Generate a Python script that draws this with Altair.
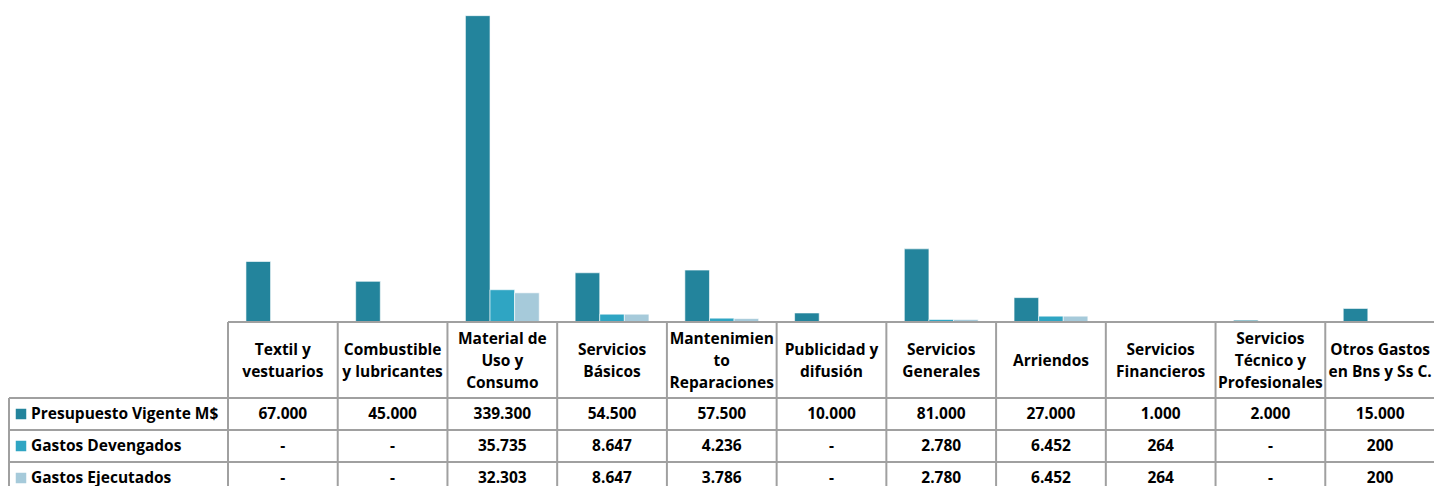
import altair as alt
import pandas as pd

# Spending categories (header labels wrap onto several lines)
categories = [
    "Textil y\nvestuarios",
    "Combustible\ny lubricantes",
    "Material de\nUso y\nConsumo",
    "Servicios\nBásicos",
    "Mantenimien\nto\nReparaciones",
    "Publicidad y\ndifusión",
    "Servicios\nGenerales",
    "Arriendos",
    "Servicios\nFinancieros",
    "Servicios\nTécnico y\nProfesionales",
    "Otros Gastos\nen Bns y Ss C.",
]
series = ["Presupuesto Vigente M$", "Gastos Devengados", "Gastos Ejecutados"]

presupuesto = [67000, 45000, 339300, 54500, 57500, 10000, 81000, 27000, 1000, 2000, 15000]
devengados = [0, 0, 35735, 8647, 4236, 0, 2780, 6452, 264, 0, 200]
ejecutados = [0, 0, 32303, 8647, 3786, 0, 2780, 6452, 264, 0, 200]

colors = ["#23849C", "#2FA5C3", "#A6CADA"]

FONT = "Open Sans"
FSIZE = 15.5
GRID = "#A0A0A0"
LINE_H = 22
HEADER_MID = 361


def fmt(v):
    return "-" if v == 0 else f"{v:,}".replace(",", ".")


rows = []
for s, vals in zip(series, [presupuesto, devengados, ejecutados]):
    for c, v in zip(categories, vals):
        rows.append({"cat": c, "series": s, "value": v, "label": fmt(v)})
df = pd.DataFrame(rows)
bars_df = df[df["value"] > 0]
cat_df = pd.DataFrame({"cat": categories,
                       "nlines": [c.count("\n") + 1 for c in categories]})
ser_df = pd.DataFrame({"series": series})

x_scale = alt.Scale(type="band", domain=categories, range=[228, 1435],
                    paddingInner=0, paddingOuter=0)
y_val = alt.Scale(domain=[0, 350000], range=[322, 6], nice=False, zero=True)
row_point = alt.Scale(type="point", domain=series, range=[398, 494], padding=0.5)
row_band = alt.Scale(type="band", domain=series, range=[398, 494],
                     paddingInner=0, paddingOuter=0)
color_scale = alt.Scale(domain=series, range=colors)

bars = alt.Chart(bars_df).mark_bar(stroke="#FFFFFF", strokeWidth=0.6).encode(
    x=alt.X("cat:N", scale=x_scale, axis=None),
    xOffset=alt.XOffset("series:N", sort=series,
                        scale=alt.Scale(domain=series, paddingInner=0, paddingOuter=0.73)),
    y=alt.Y("value:Q", scale=y_val, axis=None),
    color=alt.Color("series:N", scale=color_scale, legend=None),
)

baseline = alt.Chart(cat_df.head(1)).mark_rule(color=GRID, strokeWidth=2).encode(
    x=alt.value(228), x2=alt.value(1435),
    y=alt.YDatum(0, scale=y_val, axis=None),
)

col_lines = alt.Chart(cat_df).mark_rule(color=GRID, strokeWidth=2).encode(
    x=alt.X("cat:N", scale=x_scale, bandPosition=0, axis=None),
    y=alt.value(322), y2=alt.value(486),
)

label_col_line = alt.Chart(cat_df.head(1)).mark_rule(color=GRID, strokeWidth=2).encode(
    x=alt.value(9), y=alt.value(398), y2=alt.value(486),
)

row_lines = alt.Chart(ser_df).mark_rule(color=GRID, strokeWidth=2).encode(
    x=alt.value(9), x2=alt.value(1435),
    y=alt.Y("series:N", scale=row_band, bandPosition=0, axis=None),
)

text_style = dict(font=FONT, fontSize=FSIZE, fontWeight="bold", color="#000000")

# Header labels: one layer per line count so each block is vertically centred
header_layers = []
for n in (1, 2, 3):
    header_layers.append(
        alt.Chart(cat_df).transform_filter(alt.datum.nlines == n).mark_text(
            lineBreak="\n", lineHeight=LINE_H, align="center", baseline="middle",
            **text_style,
        ).encode(
            x=alt.X("cat:N", scale=x_scale, bandPosition=0.5, axis=None),
            y=alt.value(HEADER_MID - (n - 1) * LINE_H / 2),
            text="cat:N",
        )
    )

cells = alt.Chart(df).mark_text(align="center", baseline="middle", **text_style).encode(
    x=alt.X("cat:N", scale=x_scale, bandPosition=0.5, axis=None),
    y=alt.Y("series:N", scale=row_point, axis=None),
    text="label:N",
)

keys = alt.Chart(ser_df).mark_square(size=110, opacity=1).encode(
    x=alt.value(21),
    y=alt.Y("series:N", scale=row_point, axis=None),
    color=alt.Color("series:N", scale=color_scale, legend=None),
)

key_labels = alt.Chart(ser_df).mark_text(align="left", baseline="middle", **text_style).encode(
    x=alt.value(31),
    y=alt.Y("series:N", scale=row_point, axis=None),
    text="series:N",
)

chart = alt.layer(
    bars, col_lines, label_col_line, row_lines, baseline,
    *header_layers, cells, keys, key_labels,
).resolve_scale(y="independent").properties(
    width=1434, height=486,
    autosize=alt.AutoSizeParams(type="none"),
    padding=0, background="#FFFFFF",
).configure_view(stroke=None)

chart.save("out.html", embed_options={"renderer": "svg", "actions": False})
